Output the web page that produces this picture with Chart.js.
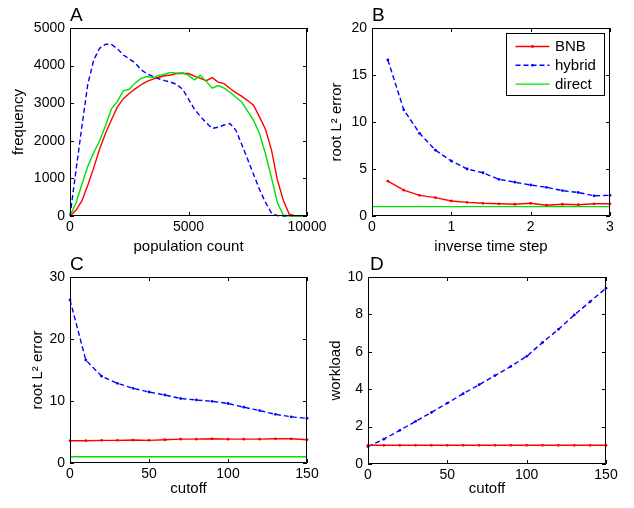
<!DOCTYPE html>
<html>
<head>
<meta charset="utf-8">
<script src="https://cdn.jsdelivr.net/npm/chart.js@4/dist/chart.umd.min.js"></script>
<style>
  html, body { margin: 0; padding: 0; background: #fff; }
  #wrap { position: relative; width: 634px; height: 508px; }
  #wrap canvas { position: absolute; left: 0; top: 0; }
</style>
</head>
<body>
<div id="wrap">
  <canvas id="chartA" width="634" height="508"></canvas>
  <canvas id="chartB" width="634" height="508"></canvas>
  <canvas id="chartC" width="634" height="508"></canvas>
  <canvas id="chartD" width="634" height="508"></canvas>
</div>
<script>
// Panel A: population count histogram
const popCount = [0, 250, 500, 750, 1000, 1250, 1500, 1750, 2000, 2250, 2500, 2750, 3000, 3250, 3500, 3750,
  4000, 4250, 4500, 4750, 5000, 5250, 5500, 5750, 6000, 6250, 6500, 6750, 7000, 7250, 7500, 7750,
  8000, 8250, 8500, 8750, 9000, 9250, 9500, 9750, 10000];
const bnbFreq = [0, 150, 400, 820, 1280, 1780, 2200, 2560, 2900, 3120, 3260, 3380, 3490, 3580, 3640, 3690,
  3730, 3750, 3790, 3790, 3790, 3720, 3660, 3600, 3680, 3560, 3520, 3390, 3280, 3180, 3070, 2940,
  2630, 2300, 1760, 960, 420, 50, 0, 0, 0];
const hybridFreq = [0, 1200, 2370, 3500, 4150, 4460, 4570, 4560, 4450, 4280, 4180, 4070, 3890, 3780, 3710, 3650,
  3600, 3560, 3500, 3370, 3110, 2840, 2650, 2480, 2330, 2360, 2420, 2460, 2280, 1900, 1500, 1100,
  700, 360, 80, 10, 0, 0, 0, 0, 0];
const directFreq = [0, 340, 840, 1320, 1680, 2000, 2400, 2850, 3050, 3330, 3370, 3540, 3660, 3710, 3680, 3740,
  3770, 3820, 3800, 3810, 3740, 3620, 3740, 3580, 3400, 3470, 3400, 3290, 3160, 3030, 2780, 2540,
  2180, 1650, 1020, 360, 25, 0, 0, 0, 0];

// Panel B: error vs inverse time step
const invTimeStep = [0.2, 0.4, 0.6, 0.8, 1.0, 1.2, 1.4, 1.6, 1.8, 2.0, 2.2, 2.4, 2.6, 2.8, 3.0];
const bnbErrB = [3.7, 2.75, 2.2, 1.95, 1.6, 1.45, 1.35, 1.3, 1.25, 1.35, 1.15, 1.25, 1.2, 1.3, 1.3];
const hybridErrB = [16.6, 11.3, 8.8, 7.0, 5.85, 5.0, 4.6, 3.9, 3.6, 3.3, 3.05, 2.7, 2.5, 2.15, 2.2];
const directXB = [0, 3];
const directErrB = [1, 1];

// Panels C and D: vs cutoff
const cutoff = [0, 10, 20, 30, 40, 50, 60, 70, 80, 90, 100, 110, 120, 130, 140, 150];
const bnbErrC = [3.6, 3.6, 3.65, 3.65, 3.7, 3.65, 3.75, 3.85, 3.85, 3.9, 3.85, 3.85, 3.85, 3.9, 3.9, 3.75];
const hybridErrC = [26.3, 16.6, 14.0, 12.85, 12.05, 11.45, 10.97, 10.4, 10.16, 9.95, 9.6, 9.0, 8.45, 7.85, 7.45, 7.2];
const directXC = [0, 150];
const directErrC = [1, 1];
const bnbLoad = [1, 1, 1, 1, 1, 1, 1, 1, 1, 1, 1, 1, 1, 1, 1, 1];
const hybridLoad = [0.93, 1.33, 1.8, 2.28, 2.76, 3.26, 3.76, 4.24, 4.73, 5.22, 5.76, 6.5, 7.2, 7.97, 8.68, 9.4];

const FONT = "'Liberation Sans', Arial, Helvetica, sans-serif";
const RED = '#ff0000', BLUE = '#0000ff', GREEN = '#00e000';

Chart.defaults.color = '#000';
Chart.defaults.font.family = FONT;

const pts = (xs, ys) => xs.map((x, i) => ({ x, y: ys[i] }));

function series(label, xs, ys, color, opts = {}) {
  return Object.assign({
    label,
    data: pts(xs, ys),
    borderColor: color,
    backgroundColor: color,
    borderWidth: 1.4,
    pointRadius: 0,
    pointBorderWidth: 0,
    tension: 0,
    fill: false,
    clip: 3
  }, opts);
}
const dotted = c => ({ pointRadius: 1.4, pointBackgroundColor: c, pointStyle: 'circle' });
const dashed = { borderDash: [5, 3] };

// box frame with inward ticks on all sides, plus the panel letter
const frameTicks = {
  id: 'frameTicks',
  afterDatasetsDraw(chart, args, opts) {
    const { ctx, chartArea: a, scales } = chart;
    ctx.save();
    ctx.strokeStyle = '#000';
    ctx.lineWidth = 1;
    ctx.beginPath();
    ctx.rect(a.left + 0.5, a.top + 0.5, a.right - a.left - 1, a.bottom - a.top - 1);
    const tl = 4;
    scales.x.ticks.forEach(t => {
      const px = Math.round(scales.x.getPixelForValue(t.value)) + 0.5;
      ctx.moveTo(px, a.bottom); ctx.lineTo(px, a.bottom - tl);
      ctx.moveTo(px, a.top); ctx.lineTo(px, a.top + tl);
    });
    scales.y.ticks.forEach(t => {
      const py = Math.round(scales.y.getPixelForValue(t.value)) + 0.5;
      ctx.moveTo(a.left, py); ctx.lineTo(a.left + tl, py);
      ctx.moveTo(a.right, py); ctx.lineTo(a.right - tl, py);
    });
    ctx.stroke();
    ctx.fillStyle = '#000';
    ctx.font = '19px ' + FONT;
    ctx.textBaseline = 'alphabetic';
    ctx.textAlign = 'left';
    ctx.fillText(opts.letter, a.left + (opts.dx || 0), a.top - 7.5);
    ctx.restore();
  }
};

// MATLAB style legend box in the top right of panel B
const legendBox = {
  id: 'legendBox',
  afterDatasetsDraw(chart, args, opts) {
    if (!opts.show) return;
    const { ctx, chartArea: a } = chart;
    const x0 = a.right - 103.5, y0 = a.top + 5.5, w = 98, h = 62;
    ctx.save();
    ctx.fillStyle = '#fff';
    ctx.fillRect(x0, y0, w, h);
    ctx.strokeStyle = '#000';
    ctx.lineWidth = 1;
    ctx.strokeRect(x0, y0, w, h);
    ctx.font = '15px ' + FONT;
    ctx.textBaseline = 'middle';
    chart.data.datasets.forEach((ds, i) => {
      const y = y0 + 13 + i * 18.8;
      ctx.strokeStyle = ds.borderColor;
      ctx.lineWidth = ds.borderWidth;
      ctx.setLineDash(ds.borderDash || []);
      ctx.beginPath();
      ctx.moveTo(x0 + 9, y); ctx.lineTo(x0 + 43, y);
      ctx.stroke();
      ctx.setLineDash([]);
      if (ds.pointRadius) {
        ctx.fillStyle = ds.borderColor;
        ctx.beginPath();
        ctx.arc(x0 + 26, y, ds.pointRadius, 0, Math.PI * 2);
        ctx.fill();
      }
      ctx.fillStyle = '#000';
      ctx.fillText(ds.label, x0 + 48.5, y + 0.5);
    });
    ctx.restore();
  }
};

// p: chart area [left, top, right, bottom]; yl / xb: where the axis boxes start/end
function makePanel(id, p) {
  const [L, T, R, B] = p.area;
  new Chart(document.getElementById(id), {
    type: 'line',
    data: { datasets: p.datasets },
    options: {
      responsive: false,
      animation: false,
      devicePixelRatio: 1,
      events: [],
      layout: { padding: { left: p.yl, top: T, right: 634 - R, bottom: 508 - p.xb } },
      plugins: {
        legend: { display: false },
        tooltip: { enabled: false },
        frameTicks: { letter: p.letter, dx: p.letterDx || 0 },
        legendBox: { show: !!p.legend }
      },
      scales: {
        x: {
          type: 'linear', min: p.x[0], max: p.x[1],
          grid: { display: false, drawTicks: false },
          border: { display: false },
          ticks: { stepSize: p.x[2], padding: 3, autoSkip: false, maxRotation: 0,
                   font: { size: 14 }, callback: v => String(v) },
          title: { display: true, text: p.xTitle, font: { size: 15 }, padding: 0 },
          afterFit: s => { s.height = p.xb - B; }
        },
        y: {
          type: 'linear', min: p.y[0], max: p.y[1],
          grid: { display: false, drawTicks: false },
          border: { display: false },
          ticks: { stepSize: p.y[2], padding: 5, autoSkip: false,
                   font: { size: 14 }, callback: v => String(v) },
          title: { display: true, text: p.yTitle, font: { size: 15 }, padding: 0 },
          afterFit: s => { s.width = L - p.yl; }
        }
      }
    },
    plugins: [frameTicks, legendBox]
  });
}

makePanel('chartA', {
  letter: 'A', area: [70, 28, 307, 216], yl: 10, xb: 256,
  x: [0, 10000, 5000], y: [0, 5000, 1000],
  xTitle: 'population count', yTitle: 'frequency',
  datasets: [
    series('direct', popCount, directFreq, GREEN),
    series('BNB', popCount, bnbFreq, RED),
    series('hybrid', popCount, hybridFreq, BLUE, dashed)
  ]
});

makePanel('chartB', {
  letter: 'B', area: [372, 28, 610, 216], yl: 328, xb: 256, legend: true,
  x: [0, 3, 1], y: [0, 20, 5],
  xTitle: 'inverse time step', yTitle: 'root L\u00B2 error',
  datasets: [
    series('BNB', invTimeStep, bnbErrB, RED, dotted(RED)),
    series('hybrid', invTimeStep, hybridErrB, BLUE, Object.assign(dotted(BLUE), dashed)),
    series('direct', directXB, directErrB, GREEN)
  ]
});

makePanel('chartC', {
  letter: 'C', area: [70, 277, 307, 463], yl: 29, xb: 498,
  x: [0, 150, 50], y: [0, 30, 10],
  xTitle: 'cutoff', yTitle: 'root L\u00B2 error',
  datasets: [
    series('BNB', cutoff, bnbErrC, RED, dotted(RED)),
    series('hybrid', cutoff, hybridErrC, BLUE, Object.assign(dotted(BLUE), dashed)),
    series('direct', directXC, directErrC, GREEN)
  ]
});

makePanel('chartD', {
  letter: 'D', area: [368, 277, 606, 464], yl: 327, xb: 498, letterDx: 2,
  x: [0, 150, 50], y: [0, 10, 2],
  xTitle: 'cutoff', yTitle: 'workload',
  datasets: [
    series('BNB', cutoff, bnbLoad, RED, dotted(RED)),
    series('hybrid', cutoff, hybridLoad, BLUE, Object.assign(dotted(BLUE), dashed))
  ]
});
</script>
</body>
</html>
